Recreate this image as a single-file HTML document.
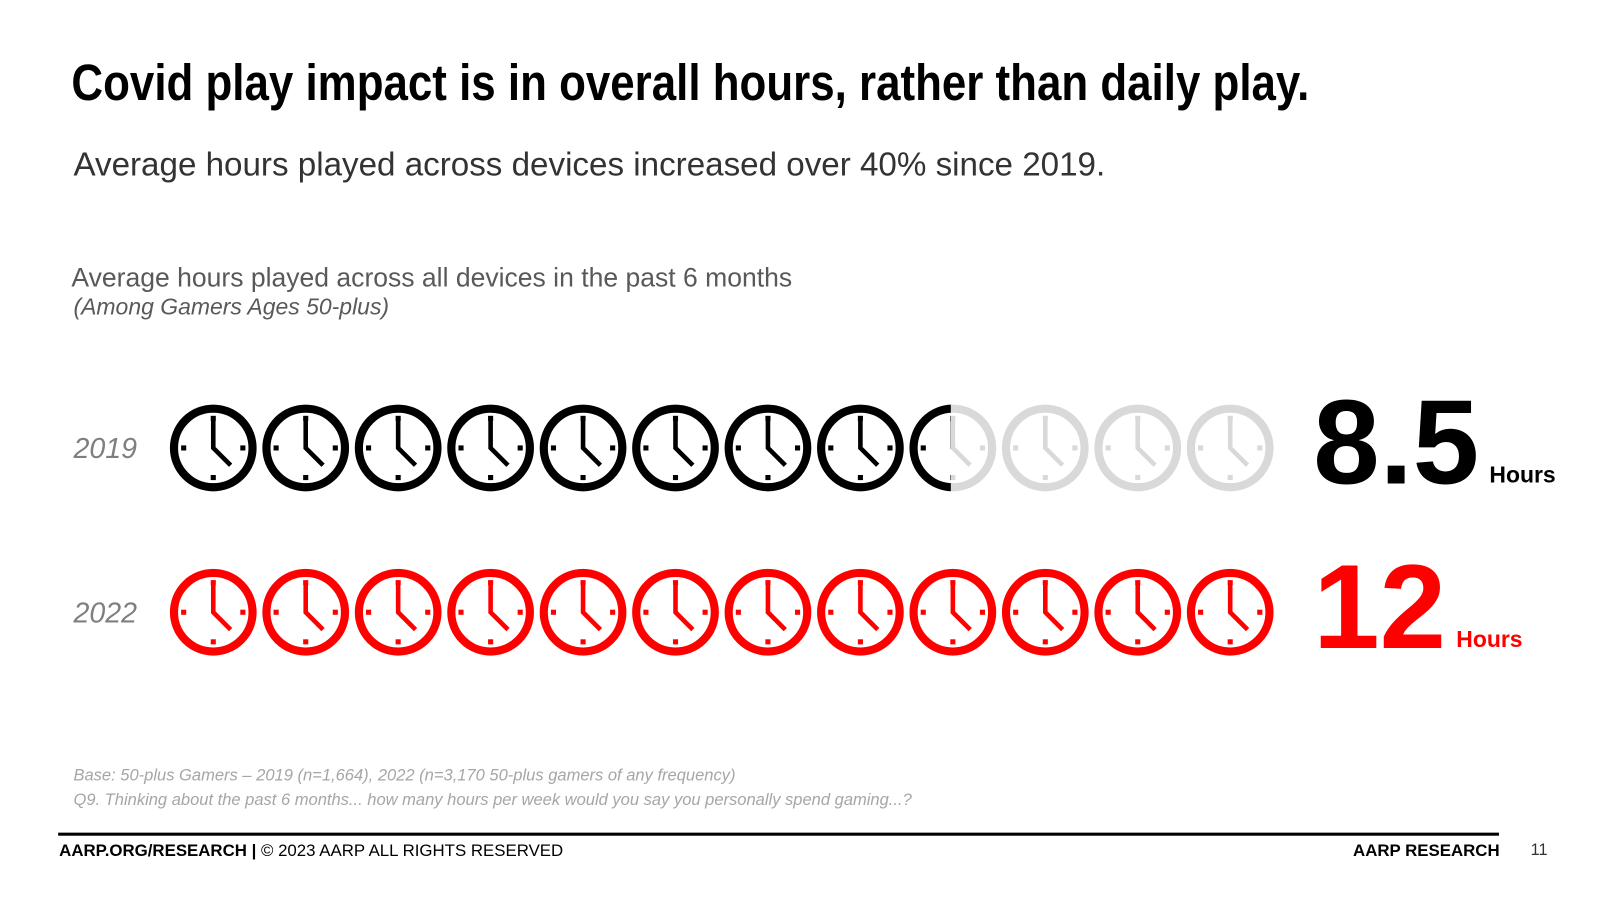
<!DOCTYPE html>
<html><head><meta charset="utf-8"><style>
body{margin:0;width:1600px;height:900px;background:#fff;font-family:"Liberation Sans",sans-serif;position:relative;overflow:hidden}
#wrap{position:absolute;left:0;top:0;width:1568px;height:882px;transform:scale(1.0204);transform-origin:0 0}
.a{position:absolute;white-space:nowrap}
</style></head><body>
<div id="wrap">
<div class="a" style="left:70px;top:52px;font-size:50px;font-weight:bold;color:#000;transform:scaleX(0.86);transform-origin:left">Covid play impact is in overall hours, rather than daily play.</div>
<div class="a" style="left:72px;top:143px;font-size:32.5px;color:#333">Average hours played across devices increased over 40% since 2019.</div>
<div class="a" style="left:70px;top:257px;font-size:26px;color:#595959">Average hours played across all devices in the past 6 months</div>
<div class="a" style="left:72px;top:288px;font-size:22.5px;font-style:italic;color:#595959">(Among Gamers Ages 50-plus)</div>
<svg id="chart" class="a" style="left:0;top:0" width="1568" height="882"></svg>
<div class="a" style="left:72px;top:751px;font-size:16.2px;font-style:italic;color:#a6a6a6">Base: 50-plus Gamers – 2019 (n=1,664), 2022 (n=3,170 50-plus gamers of any frequency)</div>
<div class="a" style="left:72px;top:775px;font-size:16.2px;font-style:italic;color:#a6a6a6">Q9. Thinking about the past 6 months... how many hours per week would you say you personally spend gaming...?</div>
<div class="a" style="left:57px;top:816px;width:1412px;height:3px;background:#000"></div>
<div class="a" style="left:58px;top:825px;font-size:16.5px;color:#000"><b>AARP.ORG/RESEARCH |</b> © 2023 AARP ALL RIGHTS RESERVED</div>
<div class="a" style="left:1326px;top:825px;font-size:16.5px;font-weight:bold;color:#000">AARP RESEARCH</div>
<div class="a" style="left:1500px;top:825px;font-size:16px;color:#333">11</div>
</div>
<script>
const years=["2019","2022"];
const hours=[8.5,12];
const valueLabels=["8.5","12"];
const totalIcons=12;
const colors=["#000","#f00"];
const NS="http://www.w3.org/2000/svg";
const svg=document.getElementById('chart');
const x0=209,dx=90.6,rowY=[439,600],R=38.5,SW=8;
function mk(t,a,p){const e=document.createElementNS(NS,t);for(const k in a)e.setAttribute(k,a[k]);(p||svg).appendChild(e);return e;}
function clock(g,cx,cy,col){
 mk('circle',{cx:cx,cy:cy,r:R,fill:'none',stroke:col,'stroke-width':SW},g);
 mk('polyline',{points:`${cx},${cy-27} ${cx},${cy} ${cx+17},${cy+17}`,fill:'none',stroke:col,'stroke-width':4.5},g);
 [[0,-29],[0,29],[-29,0],[29,0]].forEach(d=>mk('rect',{x:cx+d[0]-2.5,y:cy+d[1]-2.5,width:5,height:5,fill:col},g));
}
let defs=mk('defs',{});
years.forEach((y,ri)=>{
 const cy=rowY[ri];
 const lab=mk('text',{x:72,y:cy+10,'font-size':28,'font-style':'italic',fill:'#7f7f7f','font-family':'Liberation Sans'});
 lab.textContent=y;
 
 
 for(let i=0;i<totalIcons;i++){
  const cx=x0+i*dx;
  const g=mk('g',{});
  
  
  const frac=Math.max(0,Math.min(1,hours[ri]-i));
  if(frac>=1){clock(g,cx,cy,colors[ri]);}
  else{
   clock(g,cx,cy,'#d9d9d9');
   if(frac>0){
    const id='clip'+ri+'_'+i;
    const cp=mk('clipPath',{id:id},defs);
    mk('rect',{x:cx-R-SW,y:cy-R-SW,width:(2*(R+SW))*frac-2,height:2*(R+SW)},cp);
    const g2=mk('g',{'clip-path':`url(#${id})`},g);
    clock(g2,cx,cy,colors[ri]);
   }
  }
 }
 const vx=1287;
 const v=mk('text',{x:vx,y:cy+35,'font-size':117,'font-weight':'bold',fill:colors[ri],'font-family':'Liberation Sans'});
 v.textContent=valueLabels[ri];
 
 
 const w=v.getComputedTextLength();
 const h=mk('text',{x:vx+w+10,y:cy+34,'font-size':22.5,'font-weight':'bold',fill:colors[ri],'font-family':'Liberation Sans'});
 h.textContent='Hours';
 
 
});
</script>
</body></html>
